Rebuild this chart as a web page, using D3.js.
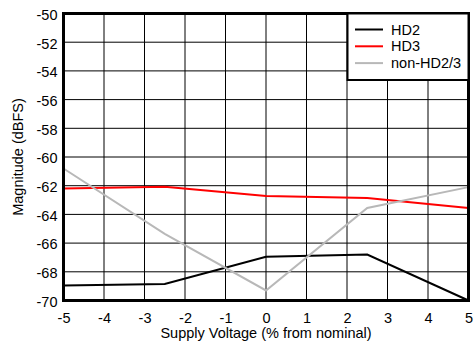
<!DOCTYPE html>
<html>
<head>
<meta charset="utf-8">
<script src="https://cdn.jsdelivr.net/npm/d3@7"></script>
<style>
  html, body { margin: 0; padding: 0; background: #fff; }
  text { font-family: Arial, "Liberation Sans", sans-serif; fill: #000; }
</style>
</head>
<body>
<svg id="chart" width="474" height="344"></svg>
<script>
const xValues = [-5, -2.5, 0, 2.5, 5];
const hd2 = [-68.95, -68.85, -66.95, -66.8, -70];
const hd3 = [-62.2, -62.08, -62.72, -62.85, -63.55];
const nonHd = [-60.8, -65.35, -69.3, -63.55, -62.1];
const xTicks = [-5, -4, -3, -2, -1, 0, 1, 2, 3, 4, 5];
const yTicks = [-70, -68, -66, -64, -62, -60, -58, -56, -54, -52, -50];
const seriesNames = ["HD2", "HD3", "non-HD2/3"];
const seriesColors = ["#000000", "#ff0000", "#b8b8b8"];
const xTitle = "Supply Voltage (% from nominal)";
const yTitle = "Magnitude (dBFS)";

const series = [hd2, hd3, nonHd];
const svg = d3.select("#chart");
const L = 63.5, R = 468.5, T = 13.5, B = 300.5;
const FS = 14.5;
const fmt = d => String(d);

const x = d3.scaleLinear().domain([-5, 5]).range([L, R]);
const y = d3.scaleLinear().domain([-70, -50]).range([B, T]);

// grid
const g = svg.append("g");
g.selectAll(".vg").data(xTicks).join("line")
  .attr("x1", d => x(d)).attr("x2", d => x(d))
  .attr("y1", T).attr("y2", B)
  .attr("stroke", "#000").attr("stroke-width", 1);
g.selectAll(".hg").data(yTicks).join("line")
  .attr("x1", L).attr("x2", R)
  .attr("y1", d => y(d)).attr("y2", d => y(d))
  .attr("stroke", "#000").attr("stroke-width", 1);

// axes labels via d3 axes
const xAxis = svg.append("g").attr("transform", `translate(0,${B})`)
  .call(d3.axisBottom(x).tickValues(xTicks).tickSize(0).tickPadding(12).tickFormat(fmt));
xAxis.select(".domain").remove();
xAxis.selectAll("text").attr("font-size", FS).attr("font-family", "Arial, 'Liberation Sans', sans-serif").attr("fill", "#000");

const yAxis = svg.append("g").attr("transform", `translate(${L},0)`)
  .call(d3.axisLeft(y).tickValues(yTicks).tickSize(0).tickPadding(6).tickFormat(fmt));
yAxis.select(".domain").remove();
yAxis.selectAll("text").attr("font-size", FS).attr("font-family", "Arial, 'Liberation Sans', sans-serif").attr("fill", "#000").attr("dy", "0.4em");

// lines
const line = d3.line().x((d, i) => x(xValues[i])).y(d => y(d));
svg.append("g").selectAll("path").data(series).join("path")
  .attr("d", d => line(d))
  .attr("fill", "none")
  .attr("stroke", (d, i) => seriesColors[i])
  .attr("stroke-width", 2);

// frame
svg.append("rect").attr("x", L).attr("y", T).attr("width", R - L).attr("height", B - T)
  .attr("fill", "none").attr("stroke", "#000").attr("stroke-width", 3);

// legend
const lg = svg.append("g");
lg.append("rect").attr("x", 347.5).attr("y", T).attr("width", R - 347.5).attr("height", 66.5)
  .attr("fill", "#fff").attr("stroke", "#000").attr("stroke-width", 2);
seriesNames.forEach((n, i) => {
  const yy = 29.5 + i * 16.8;
  lg.append("line").attr("x1", 355).attr("x2", 383).attr("y1", yy).attr("y2", yy)
    .attr("stroke", seriesColors[i]).attr("stroke-width", 2);
  lg.append("text").attr("x", 391).attr("y", yy + 5).attr("font-size", FS).text(n);
});

// titles
svg.append("text").attr("x", (L + R) / 2).attr("y", 338).attr("text-anchor", "middle")
  .attr("font-size", FS).text(xTitle);
svg.append("text").attr("transform", `translate(23,${(T + B) / 2}) rotate(-90)`)
  .attr("text-anchor", "middle").attr("font-size", FS).text(yTitle);
</script>
</body>
</html>
